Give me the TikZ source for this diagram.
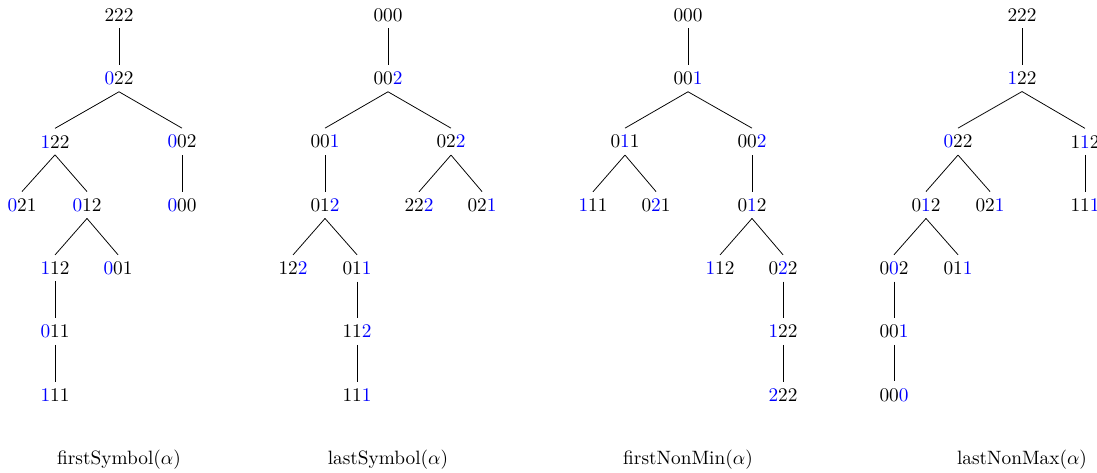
\documentclass[tikz,border=0pt]{standalone}
\usepackage{xcolor}
\newcommand{\hl}[1]{\textcolor{blue}{#1}}
\tikzset{
  word/.style={inner sep=0.333em},
  link/.style={draw=black, line width=0.4pt},
  caption/.style={anchor=base, inner sep=0pt}
}
\begin{document}
\begin{tikzpicture}[x=0.518pt, y=-0.518pt]
  \clip (0,0) rectangle (1097,472);
  % level heights
  \def\La{15}\def\Lb{78.3}\def\Lc{141.6}\def\Ld{205}\def\Le{268.2}\def\Lf{331.5}\def\Lg{394.8}

  % firstSymbol tree
  \node[word] (a1)  at (119,\La) {222};
  \node[word] (a2)  at (119,\Lb) {\hl{0}22};
  \node[word] (a3)  at (55,\Lc)  {\hl{1}22};
  \node[word] (a4)  at (182,\Lc) {\hl{0}02};
  \node[word] (a5)  at (22,\Ld)  {\hl{0}21};
  \node[word] (a6)  at (87,\Ld)  {\hl{0}12};
  \node[word] (a7)  at (182,\Ld) {\hl{0}00};
  \node[word] (a8)  at (55,\Le)  {\hl{1}12};
  \node[word] (a9)  at (118,\Le) {\hl{0}01};
  \node[word] (a10) at (55,\Lf)  {\hl{0}11};
  \node[word] (a11) at (55,\Lg)  {\hl{1}11};
  \foreach \p/\c in {a1/a2,a2/a3,a2/a4,a3/a5,a3/a6,a4/a7,a6/a8,a6/a9,a8/a10,a10/a11}
    \draw[link] (\p.south) -- (\c.north);

  % lastSymbol tree
  \node[word] (b1)  at (388,\La) {000};
  \node[word] (b2)  at (388,\Lb) {00\hl{2}};
  \node[word] (b3)  at (325,\Lc) {00\hl{1}};
  \node[word] (b4)  at (451,\Lc) {02\hl{2}};
  \node[word] (b5)  at (325,\Ld) {01\hl{2}};
  \node[word] (b6)  at (419,\Ld) {22\hl{2}};
  \node[word] (b7)  at (482,\Ld) {02\hl{1}};
  \node[word] (b8)  at (293,\Le) {12\hl{2}};
  \node[word] (b9)  at (357,\Le) {01\hl{1}};
  \node[word] (b10) at (357,\Lf) {11\hl{2}};
  \node[word] (b11) at (357,\Lg) {11\hl{1}};
  \foreach \p/\c in {b1/b2,b2/b3,b2/b4,b3/b5,b4/b6,b4/b7,b5/b8,b5/b9,b9/b10,b10/b11}
    \draw[link] (\p.south) -- (\c.north);

  % firstNonMin tree
  \node[word] (c1)  at (688,\La) {000};
  \node[word] (c2)  at (688,\Lb) {00\hl{1}};
  \node[word] (c3)  at (625,\Lc) {0\hl{1}1};
  \node[word] (c4)  at (752,\Lc) {00\hl{2}};
  \node[word] (c5)  at (593,\Ld) {\hl{1}11};
  \node[word] (c6)  at (656,\Ld) {0\hl{2}1};
  \node[word] (c7)  at (752,\Ld) {0\hl{1}2};
  \node[word] (c8)  at (720,\Le) {\hl{1}12};
  \node[word] (c9)  at (783,\Le) {0\hl{2}2};
  \node[word] (c10) at (783,\Lf) {\hl{1}22};
  \node[word] (c11) at (783,\Lg) {\hl{2}22};
  \foreach \p/\c in {c1/c2,c2/c3,c2/c4,c3/c5,c3/c6,c4/c7,c7/c8,c7/c9,c9/c10,c10/c11}
    \draw[link] (\p.south) -- (\c.north);

  % lastNonMax tree
  \node[word] (d1)  at (1022,\La) {222};
  \node[word] (d2)  at (1022,\Lb) {\hl{1}22};
  \node[word] (d3)  at (958,\Lc)  {\hl{0}22};
  \node[word] (d4)  at (1085,\Lc) {1\hl{1}2};
  \node[word] (d5)  at (926,\Ld)  {0\hl{1}2};
  \node[word] (d6)  at (990,\Ld)  {02\hl{1}};
  \node[word] (d7)  at (1085,\Ld) {11\hl{1}};
  \node[word] (d8)  at (894,\Le)  {0\hl{0}2};
  \node[word] (d9)  at (958,\Le)  {01\hl{1}};
  \node[word] (d10) at (894,\Lf)  {00\hl{1}};
  \node[word] (d11) at (894,\Lg)  {00\hl{0}};
  \foreach \p/\c in {d1/d2,d2/d3,d2/d4,d3/d5,d3/d6,d4/d7,d5/d8,d5/d9,d8/d10,d10/d11}
    \draw[link] (\p.south) -- (\c.north);

  % captions
  \node[caption] (capA) at (119,464)  {firstSymbol$(\alpha)$};
  \node[caption] (capB) at (388,464)  {lastSymbol$(\alpha)$};
  \node[caption] (capC) at (688,464)  {firstNonMin$(\alpha)$};
  \node[caption] (capD) at (1022,464) {lastNonMax$(\alpha)$};
\end{tikzpicture}
\end{document}
